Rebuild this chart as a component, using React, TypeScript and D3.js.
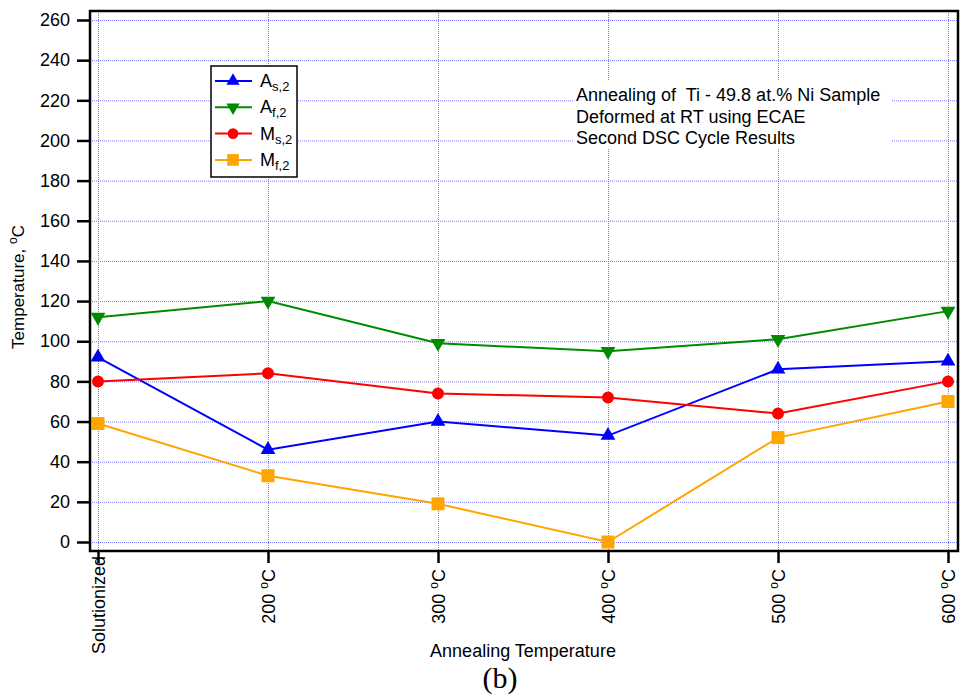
import React, { useEffect, useRef } from 'react';
import * as d3 from 'd3';

const categories = ['Solutionized', '200', '300', '400', '500', '600'];
const asValues = [92, 46, 60, 53, 86, 90];
const afValues = [112, 120, 99, 95, 101, 115];
const msValues = [80, 84, 74, 72, 64, 80];
const mfValues = [59, 33, 19, 0, 52, 70];
const yTicks = [0, 20, 40, 60, 80, 100, 120, 140, 160, 180, 200, 220, 240, 260];
const noteLines = [
  'Annealing of  Ti - 49.8 at.% Ni Sample',
  'Deformed at RT using ECAE',
  'Second DSC Cycle Results',
];

const FONT = '"Liberation Sans", Arial, sans-serif';

const App = () => {
  const svgRef = useRef<SVGSVGElement>(null);

  useEffect(() => {
    const width = 961;
    const height = 698;
    const frame = { left: 90, right: 958, top: 11, bottom: 551 };

    const svg = d3.select(svgRef.current)
      .attr('width', width)
      .attr('height', height)
      .style('position', 'absolute')
      .style('left', 0)
      .style('top', 0)
      .style('background', '#fff');
    svg.selectAll('*').remove();

    const x = d3.scalePoint<string>()
      .domain(categories)
      .range([98, 948]);

    const y = d3.scaleLinear()
      .domain([0, 260])
      .range([542, 20]);

    const series = [
      { name: 'A', sub: 's,2', values: asValues, color: '#0000ff', symbol: d3.symbolTriangle, size: 95, rot: 0 },
      { name: 'A', sub: 'f,2', values: afValues, color: '#008a00', symbol: d3.symbolTriangle, size: 95, rot: 180 },
      { name: 'M', sub: 's,2', values: msValues, color: '#ff0000', symbol: d3.symbolCircle, size: 113, rot: 0 },
      { name: 'M', sub: 'f,2', values: mfValues, color: '#ffa500', symbol: d3.symbolSquare, size: 169, rot: 0 },
    ];

    // grid
    const grid = svg.append('g')
      .attr('stroke', '#7878ff')
      .attr('stroke-width', 1)
      .attr('stroke-dasharray', '1,1');
    grid.selectAll('.hg')
      .data(yTicks)
      .join('line')
      .attr('x1', frame.left)
      .attr('x2', frame.right)
      .attr('y1', d => y(d) + 0.5)
      .attr('y2', d => y(d) + 0.5);
    grid.selectAll('.vg')
      .data(categories)
      .join('line')
      .attr('x1', d => x(d)! + 0.5)
      .attr('x2', d => x(d)! + 0.5)
      .attr('y1', frame.top)
      .attr('y2', frame.bottom);

    // note box (covers grid)
    svg.append('rect')
      .attr('x', 573)
      .attr('y', 81)
      .attr('width', 319)
      .attr('height', 67)
      .attr('fill', '#fff');
    svg.append('g')
      .selectAll('text')
      .data(noteLines)
      .join('text')
      .attr('x', 576)
      .attr('y', (d, i) => 101 + i * 21.5)
      .attr('font-family', FONT)
      .attr('font-size', 18)
      .style('white-space', 'pre')
      .text(d => d);

    // lines + markers
    const line = d3.line<number>()
      .x((d, i) => x(categories[i])!)
      .y(d => y(d));

    series.forEach(s => {
      svg.append('path')
        .datum(s.values)
        .attr('fill', 'none')
        .attr('stroke', s.color)
        .attr('stroke-width', 2)
        .attr('d', line);
      svg.append('g')
        .selectAll('path')
        .data(s.values)
        .join('path')
        .attr('transform', (d, i) => `translate(${x(categories[i])},${y(d)}) rotate(${s.rot})`)
        .attr('d', d3.symbol(s.symbol, s.size)())
        .attr('fill', s.color);
    });

    // frame
    svg.append('rect')
      .attr('x', frame.left)
      .attr('y', frame.top)
      .attr('width', frame.right - frame.left)
      .attr('height', frame.bottom - frame.top)
      .attr('fill', 'none')
      .attr('stroke', 'black')
      .attr('stroke-width', 2.5);

    // y axis
    const yAxis = svg.append('g')
      .attr('transform', `translate(${frame.left},0)`)
      .call(d3.axisLeft(y).tickValues(yTicks).tickSize(13).tickPadding(7));
    yAxis.select('.domain').remove();
    yAxis.selectAll('line').attr('stroke-width', 2.5);
    yAxis.selectAll('text')
      .attr('font-family', FONT)
      .attr('font-size', 18)
      .attr('fill', '#000');

    // x axis
    const xAxis = svg.append('g')
      .attr('transform', `translate(0,${frame.bottom})`)
      .call(d3.axisBottom(x).tickSize(12).tickFormat(() => ''));
    xAxis.select('.domain').remove();
    xAxis.selectAll('line').attr('stroke-width', 2.5);
    xAxis.selectAll<SVGTextElement, string>('text').each(function (d, i) {
      const t = d3.select(this)
        .attr('transform', 'rotate(-90)')
        .attr('x', i === 0 ? -5 : -18) // long first label sits closer to the axis
        .attr('y', 0)
        .attr('dy', '0.36em')
        .attr('text-anchor', 'end')
        .attr('font-family', FONT)
        .attr('font-size', 18)
        .attr('fill', '#000');
      if (i === 0) {
        t.text(d);
      } else {
        t.append('tspan').text(d + ' ');
        t.append('tspan').attr('font-size', 12).attr('baseline-shift', '55%').text('o');
        t.append('tspan').text('C');
      }
    });

    // axis titles
    svg.append('text')
      .attr('x', 523)
      .attr('y', 657)
      .attr('text-anchor', 'middle')
      .attr('font-family', FONT)
      .attr('font-size', 18)
      .text('Annealing Temperature');

    const yt = svg.append('text')
      .attr('transform', 'translate(24,287) rotate(-90)')
      .attr('text-anchor', 'middle')
      .attr('font-family', FONT)
      .attr('font-size', 17);
    yt.append('tspan').text('Temperature, ');
    yt.append('tspan').attr('font-size', 12).attr('baseline-shift', '55%').text('o');
    yt.append('tspan').text('C');

    svg.append('text')
      .attr('x', 500)
      .attr('y', 688)
      .attr('text-anchor', 'middle')
      .attr('font-family', '"Liberation Serif", "Times New Roman", serif')
      .attr('font-size', 30)
      .text('(b)');

    // legend
    const legend = svg.append('g').attr('transform', 'translate(211,66)');
    legend.append('rect')
      .attr('width', 86)
      .attr('height', 111)
      .attr('fill', '#fff')
      .attr('stroke', 'black')
      .attr('stroke-width', 1.5);
    series.forEach((s, i) => {
      const g = legend.append('g').attr('transform', `translate(0,${15 + i * 26.3})`);
      g.append('line')
        .attr('x1', 4)
        .attr('x2', 41)
        .attr('stroke', s.color)
        .attr('stroke-width', 2);
      g.append('path')
        .attr('transform', `translate(22,0) rotate(${s.rot})`)
        .attr('d', d3.symbol(s.symbol, s.size * 0.8)())
        .attr('fill', s.color);
      const t = g.append('text')
        .attr('x', 49)
        .attr('y', 6)
        .attr('font-family', FONT)
        .attr('font-size', 18);
      t.append('tspan').text(s.name);
      t.append('tspan').attr('font-size', 13).attr('baseline-shift', '-30%').text(s.sub);
    });
  }, []);

  return <svg ref={svgRef}></svg>;
};

export default App;
